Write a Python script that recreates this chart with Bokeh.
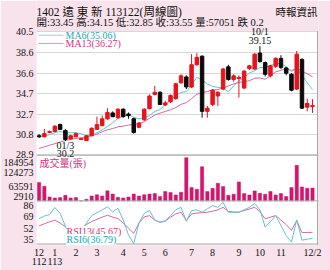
from bokeh.plotting import figure
from bokeh.models import Range1d, FixedTicker, Label, Span, ColumnDataSource, PrintfTickFormatter
from bokeh.embed import file_html
from bokeh.resources import INLINE

# ---------------- data (weekly) ----------------
weeks = list(range(53))
opens = [30.70, 30.60, 31.00, 31.10, 31.75, 31.20, 30.40, 30.60, 30.35, 30.25,
         30.70, 31.30, 31.65, 32.30, 32.85, 32.40, 33.20, 32.75, 32.30, 31.50,
         32.20, 33.25, 34.60, 34.80, 33.60, 33.90, 34.20, 35.70, 36.25, 35.30,
         37.40, 38.20, 33.00, 33.65, 34.45, 35.10, 37.20, 36.00, 36.10, 35.20,
         37.05, 37.00, 38.50, 37.60, 36.35, 37.25, 38.00, 37.10, 36.50, 35.10,
         37.90, 33.40, 33.45]
highs = [30.85, 31.35, 31.20, 31.70, 31.85, 31.30, 30.80, 31.00, 30.50, 30.75,
         31.50, 32.50, 32.60, 33.30, 33.00, 33.30, 33.30, 32.90, 32.40, 32.00,
         33.30, 34.60, 35.40, 34.90, 34.00, 34.60, 35.70, 36.50, 36.40, 38.40,
         38.50, 38.30, 33.50, 35.10, 34.90, 37.10, 37.40, 36.50, 36.40, 36.90,
         37.40, 38.50, 39.15, 37.70, 37.40, 38.10, 38.30, 37.20, 36.60, 38.70,
         38.00, 34.20, 34.15]
lows = [30.50, 30.55, 30.95, 31.05, 31.25, 30.20, 30.35, 30.55, 30.30, 30.22,
        30.65, 31.25, 31.60, 32.20, 32.45, 32.30, 32.40, 32.30, 30.90, 31.40,
        32.10, 33.20, 34.50, 33.60, 33.50, 33.80, 34.10, 35.60, 35.10, 35.20,
        37.30, 32.40, 32.40, 33.50, 33.50, 35.00, 35.90, 35.80, 34.30, 35.10,
        36.90, 36.90, 37.60, 36.30, 36.20, 37.10, 37.00, 36.40, 34.90, 35.00,
        33.25, 33.00, 32.85]
closes = [30.60, 30.90, 31.10, 31.60, 31.30, 30.35, 30.70, 30.90, 30.45, 30.70,
          31.40, 31.75, 32.30, 32.90, 32.50, 33.20, 32.50, 32.60, 31.00, 31.90,
          33.20, 34.45, 34.80, 33.65, 33.80, 34.50, 35.60, 36.35, 35.30, 37.40,
          38.10, 33.00, 33.30, 35.00, 34.80, 37.00, 36.00, 36.35, 36.20, 36.80,
          37.30, 38.40, 37.70, 36.50, 37.30, 38.00, 37.15, 36.60, 35.00, 38.40,
          33.30, 33.75, 33.55]
ma6 = [30.65, 30.70, 30.80, 31.00, 31.10, 30.98, 30.99, 30.99, 30.88, 30.73,
       30.75, 30.98, 31.25, 31.58, 31.93, 32.34, 32.53, 32.67, 32.45, 32.28,
       32.40, 32.61, 32.99, 33.17, 33.64, 34.07, 34.47, 34.79, 34.87, 35.49,
       36.21, 35.96, 35.58, 35.35, 35.27, 35.20, 34.85, 35.41, 35.89, 36.19,
       36.61, 36.84, 37.13, 37.15, 37.33, 37.53, 37.51, 37.21, 36.76, 37.08,
       36.41, 35.70, 35.06]
ma13 = [29.50, 29.65, 29.80, 29.95, 30.10, 30.25, 30.35, 30.45, 30.50, 30.55,
        30.70, 30.85, 31.08, 31.26, 31.38, 31.54, 31.61, 31.71, 31.76, 31.85,
        32.03, 32.34, 32.65, 32.83, 32.99, 33.15, 33.36, 33.66, 33.82, 34.20,
        34.62, 34.77, 34.88, 35.02, 35.05, 35.22, 35.40, 35.59, 35.72, 35.82,
        35.89, 36.13, 36.15, 36.03, 36.36, 36.72, 36.88, 37.02, 36.87, 37.05,
        36.82, 36.55, 36.27]
volume = [80900, 64500, 19300, 15200, 16600, 26200, 15200, 16600, 2910, 9700,
          23400, 28900, 23400, 45300, 31600, 17900, 15200, 19300, 31600, 23400,
          28900, 31600, 33700, 21800, 42100, 37900, 28100, 39300, 184954, 58900,
          51900, 147100, 42100, 56100, 77100, 63100, 26700, 30900, 82700, 33700,
          28100, 44900, 35100, 30900, 42100, 28100, 33700, 21100, 58900, 152700,
          61700, 56100, 57051]
rsi6 = [66.2, 70.0, 72.3, 82.7, 73.9, 55.2, 39.8, 46.4, 43.1, 59.6,
        70.6, 75.0, 79.4, 83.8, 76.1, 81.6, 64.0, 42.0, 28.8, 59.6,
        73.9, 78.3, 64.0, 60.7, 62.9, 70.6, 79.4, 83.0, 62.4, 78.2,
        79.2, 75.7, 80.7, 85.6, 83.0, 90.4, 75.7, 75.7, 75.7, 79.4,
        83.0, 89.0, 79.2, 53.4, 61.8, 70.7, 56.0, 40.9, 31.2, 64.3,
        34.0, 35.5, 36.79]
rsi13 = [55.5, 58.5, 61.4, 63.8, 59.6, 54.1, 46.4, 49.7, 51.9, 57.4,
         61.8, 65.1, 68.4, 71.2, 68.4, 66.2, 59.6, 51.9, 44.2, 59.6,
         68.8, 70.6, 64.0, 60.8, 62.4, 68.4, 73.2, 75.7, 63.3, 73.2,
         74.5, 75.0, 75.7, 77.2, 79.2, 83.0, 76.9, 76.1, 75.7, 78.3,
         80.5, 83.0, 76.9, 65.9, 68.4, 70.7, 64.0, 57.4, 48.6, 63.3,
         45.2, 45.5, 45.67]
month_ticks = [0, 3, 7, 11, 16, 20, 24, 29, 33, 38, 42, 46, 52]
month_labels = ["12\n112", "1\n113", "2", "3", "4", "5", "6", "7", "8", "9", "10", "11", "12/2"]
price_ticks = [28.9, 30.8, 32.7, 34.7, 36.6, 38.6, 40.5]
vol_tick_labels = ["184954", "124273", "63591", "2910"]
rsi_ticks = [86, 69, 52, 35]

# ---------------- layout helpers (pixel geometry) ----------------
W, H = 330, 270
FL, FR, FT, FB = 36, 318, 0, 247          # plot frame
PL, PR, PT, PB = 36, 317, 31, 246         # white chart panel
PX = (312 - 38.6) / 52
X0 = -(38.6 - FL) / PX
X1 = X0 + (FR - FL) / PX
P_TOP, P_BOT = 40.56, 28.86               # price at y=31 and y=156
KP = (156 - PT) / (P_TOP - P_BOT)
KV = (202 - 158.5) / (max(volume) - min(volume))
KR = 0.676


def px2x(px):
    return X0 + (px - FL) / PX


def py2price(py):
    return P_TOP - (py - PT) / KP


def py2vol(py):
    return min(volume) + (202 - py) / KV


def py2rsi(py):
    return 86 - (py - 206.5) / KR


PINK_BG = "#f8e2ec"
RED = "#e5141c"
BLACK = "#0a0a0a"
VOLC = "#d2166c"
CYAN_L = "#66c2cd"
PINK_L = "#d06ca3"
CYAN_T = "#2aa6b6"
PINK_T = "#d6337f"
BORDER = "#a8a8a8"
SERIF = "Liberation Serif, Noto Sans CJK TC"

p = figure(width=W, height=H, title=None,
           x_range=Range1d(X0, X1), y_range=Range1d(py2price(FB), py2price(FT)),
           output_backend="svg", toolbar_location=None,
           min_border_left=FL, min_border_right=W - FR,
           min_border_top=FT, min_border_bottom=H - FB)
p.extra_y_ranges = {"vol": Range1d(py2vol(FB), py2vol(FT)),
                    "rsi": Range1d(py2rsi(FB), py2rsi(FT))}
p.border_fill_color = PINK_BG
p.background_fill_color = PINK_BG
p.outline_line_color = None

# white chart panel
p.quad(left=[px2x(PL)], right=[px2x(PR)], top=[py2price(PT)], bottom=[py2price(PB)],
       fill_color="white", line_color=None, level="image")

# left axis: price ticks + volume / RSI labels at their panel positions
vol_pos = [round(py2price(163), 5), round(py2price(202 - (124273 - min(volume)) * KV), 5),
           round(py2price(202 - (63591 - min(volume)) * KV), 5), round(py2price(198), 5)]
rsi_pos = [round(py2price(206.5 + (86 - t) * KR), 5) for t in rsi_ticks]
overrides = dict(zip(vol_pos, vol_tick_labels))
overrides.update(dict(zip(rsi_pos, [str(t) for t in rsi_ticks])))
p.yaxis.ticker = FixedTicker(ticks=price_ticks + vol_pos + rsi_pos)
p.yaxis.formatter = PrintfTickFormatter(format="%.1f")
p.yaxis.major_label_overrides = overrides
p.yaxis.axis_line_color = None
p.yaxis.major_tick_line_color = None
p.yaxis.minor_tick_line_color = None
p.yaxis.major_tick_out = 0
p.yaxis.major_tick_in = 0
p.yaxis.minor_tick_out = 0
p.yaxis.major_label_standoff = 3
p.yaxis.major_label_text_font = "Liberation Serif"
p.yaxis.major_label_text_font_size = "10px"
p.yaxis.major_label_text_color = "#111111"
p.ygrid.ticker = FixedTicker(ticks=price_ticks)
p.ygrid.grid_line_color = "#d8d8d8"
p.xgrid.visible = False

p.xaxis.ticker = FixedTicker(ticks=month_ticks)
p.xaxis.major_label_overrides = dict(zip(month_ticks, month_labels))
p.xaxis.axis_line_color = None
p.xaxis.major_tick_line_color = None
p.xaxis.minor_tick_line_color = None
p.xaxis.major_tick_out = 0
p.xaxis.major_tick_in = 0
p.xaxis.minor_tick_out = 0
p.xaxis.major_label_standoff = 1
p.xaxis.major_label_text_font = "Liberation Serif"
p.xaxis.major_label_text_font_size = "10px"
p.xaxis.major_label_text_line_height = 0.9
p.xaxis.major_label_text_color = "#111111"

# moving averages
p.line(weeks, ma13, line_color=PINK_L, line_width=1)
p.line(weeks, ma6, line_color=CYAN_L, line_width=1)

# candles
colors = [RED if c >= o else BLACK for o, c in zip(opens, closes)]
src = ColumnDataSource(dict(x=weeks, high=highs, low=lows,
                            top=[max(o, c) for o, c in zip(opens, closes)],
                            bottom=[min(o, c) for o, c in zip(opens, closes)],
                            color=colors))
p.segment(x0="x", y0="low", x1="x", y1="high", line_color="color", line_width=1, source=src)
p.vbar(x="x", top="top", bottom="bottom", width=0.66, fill_color="color",
       line_color="color", line_width=1, source=src)

# volume
p.vbar(x=weeks, bottom=min(volume), top=volume, width=0.62, fill_color=VOLC,
       line_color=VOLC, line_width=0.5, y_range_name="vol")

# RSI
p.line(weeks, rsi13, line_color=PINK_L, line_width=1, y_range_name="rsi")
p.line(weeks, rsi6, line_color=CYAN_L, line_width=1, y_range_name="rsi")

# panel separators and border
for yy in (156, 202, 245.5):
    p.add_layout(Span(location=py2price(yy), dimension="width", line_color=BORDER, line_width=1))
p.segment(x0=[px2x(PR)], y0=[py2price(PT)], x1=[px2x(PR)], y1=[py2price(PB)],
          line_color=BORDER, line_width=1)


def lab(px, py, text, align="left", color="#111111", size="10px", bg=None, x=None, y=None,
        yr="default"):
    kw = {}
    if bg is not None:
        kw["background_fill_color"] = bg
    lb = Label(x=px2x(px) if x is None else x, y=py2price(py) if y is None else y,
               text=text, text_align=align, text_baseline="middle", text_font=SERIF,
               text_font_size=size, text_color=color, y_range_name=yr, **kw)
    p.add_layout(lb)


# header
lab(36, 12, "1402 遠 東 新 113122(周線圖)", size="11.5px")
lab(36, 22.5, "開:33.45 高:34.15 低:32.85 收:33.55 量:57051 跌 0.2", size="10.5px")
lab(275, 12, "時報資訊", size="10.5px")

# MA legend
p.segment(x0=[px2x(38)], y0=[py2price(35)], x1=[px2x(63)], y1=[py2price(35)],
          line_color=CYAN_L, line_alpha=0.7)
p.segment(x0=[px2x(38)], y0=[py2price(43.3)], x1=[px2x(63)], y1=[py2price(43.3)],
          line_color=PINK_L, line_alpha=0.7)
lab(65, 35, "MA6(35.06)", color=CYAN_T, size="10px")
lab(65, 43.3, "MA13(36.27)", color=PINK_T, size="10px")

# high / low annotations
hi_i = highs.index(max(highs))
lo_i = lows.index(min(lows))
lab(0, 31, "10/1", align="center", x=weeks[hi_i])
lab(0, 40, "%.2f" % highs[hi_i], align="center", x=weeks[hi_i])
lab(0, 146, "01/3", align="center", x=weeks[lo_i])
lab(0, 154.5, "%.1f" % lows[lo_i], align="center", x=weeks[lo_i])

# panel legends
lab(39, 164, "成交量(張)", color=PINK_T, size="10px")
lab(66, 233, "RSI13(45.67)", color=PINK_T, size="10px", bg="white")
lab(66, 241, "RSI6(36.79)", color=CYAN_T, size="10px", bg="white")

open("out.html", "w").write(file_html(p, INLINE))
